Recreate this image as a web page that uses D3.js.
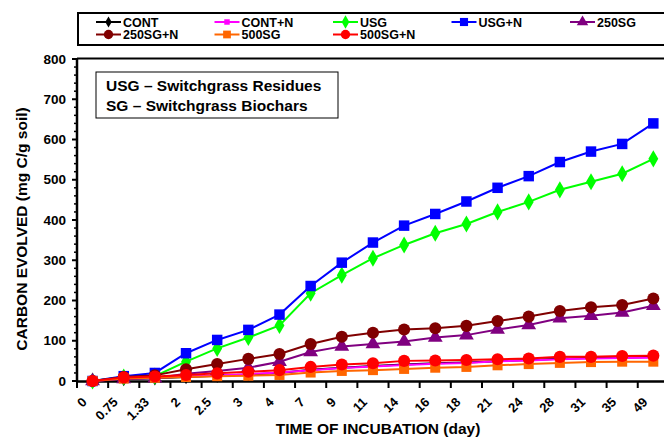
<!DOCTYPE html>
<html><head><meta charset="utf-8">
<script src="https://cdn.jsdelivr.net/npm/d3@7/dist/d3.min.js"></script>
<style>
body{margin:0;background:#fff;}
text{font-family:"Liberation Sans",Arial,sans-serif;font-weight:bold;fill:#000;}
</style></head>
<body><svg id="c" width="664" height="437"></svg>
<script>
const days = ["0","0.75","1.33","2","2.5","3","4","7","9","11","14","16","18","21","24","28","31","35","49"];
const seriesNames = ["CONT","CONT+N","USG","USG+N","250SG","250SG+N","500SG","500SG+N"];
const CONT     = [0,5,7,10,13,16,20,28,33,37,41,44,46,49,52,55,57,58,60];
const CONT_N   = [0,6,8,11,14,17,21,27,32,36,40,43,45,49,51,54,56,57,58];
const USG      = [0,10,12,48,81,108,138,218,263,305,338,367,390,420,445,475,495,515,552];
const USG_N    = [0,12,20,69,102,127,165,236,294,344,386,415,446,480,509,544,570,589,640];
const SG250    = [0,5,7,18,25,33,48,72,86,92,98,108,114,128,139,156,162,170,187];
const SG250_N  = [0,10,14,29,42,55,67,92,110,120,128,131,137,149,160,174,183,189,205];
const SG500    = [0,6,8,10,12,13,15,21,25,27,30,33,35,39,42,45,47,48,48];
const SG500_N  = [0,9,11,15,19,23,27,35,41,44,50,51,52,54,56,60,60,62,63];
const yTicks = [0,100,200,300,400,500,600,700,800];

const seriesData = [CONT, CONT_N, USG, USG_N, SG250, SG250_N, SG500, SG500_N];
const colors = ["#000000","#FF00FF","#00FF00","#0000FF","#800080","#800000","#FF6600","#FF0000"];
const shapes = ["diamond","square","diamond","square","triangle","circle","square","circle"];
const sizes  = [60,50,85,110,95,115,100,115];

const svg = d3.select("#c");
const x = d3.scaleBand().domain(days).range([77, 668.9]);
const y = d3.scaleLinear().domain([0,800]).range([381, 59]);

// Legend box
svg.append("rect").attr("x",78).attr("y",13).attr("width",640).attr("height",32)
  .attr("fill","#fff").attr("stroke","#000").attr("stroke-width",2);
const symMap = {diamond:d3.symbolDiamond, square:d3.symbolSquare, triangle:d3.symbolTriangle, circle:d3.symbolCircle};
seriesNames.forEach((n,i)=>{
  const col = i<5 ? i : i-5, row = i<5 ? 0 : 1;
  const lx = 96 + col*118.5, ly = 22 + row*12.5;
  const g = svg.append("g");
  g.append("line").attr("x1",lx).attr("x2",lx+25).attr("y1",ly).attr("y2",ly)
    .attr("stroke",colors[i]).attr("stroke-width",2);
  g.append("path").attr("d",d3.symbol().type(symMap[shapes[i]]).size(sizes[i]*0.6)())
    .attr("transform",`translate(${lx+12.5},${ly})`).attr("fill",colors[i]);
  g.append("text").attr("x",lx+27).attr("y",ly+4.5).attr("font-size",12.5).text(n);
});

// Plot top border
svg.append("line").attr("x1",77).attr("x2",664).attr("y1",58.5).attr("y2",58.5)
  .attr("stroke","#000").attr("stroke-width",2);

// Annotation box
svg.append("rect").attr("x",96).attr("y",72).attr("width",242).attr("height",46)
  .attr("fill","#fff").attr("stroke","#000").attr("stroke-width",1);
svg.append("text").attr("x",106).attr("y",91).attr("font-size",15.5).text("USG \u2013 Switchgrass Residues");
svg.append("text").attr("x",106).attr("y",110.5).attr("font-size",15.5).text("SG \u2013 Switchgrass Biochars");

// Y axis
const yAxisG = svg.append("g");
yAxisG.append("line").attr("x1",77).attr("x2",77).attr("y1",58).attr("y2",382)
  .attr("stroke","#000").attr("stroke-width",2.5);
d3.range(0,801,20).forEach(v=>{
  const major = v%100===0;
  yAxisG.append("line").attr("x1",major?72:74).attr("x2",77).attr("y1",y(v)).attr("y2",y(v))
    .attr("stroke","#000").attr("stroke-width",major?2:1.5);
});
yTicks.forEach(v=>{
  yAxisG.append("text").attr("x",66).attr("y",y(v)+4.5).attr("text-anchor","end")
    .attr("font-size",13.5).text(v);
});

// X axis
const xAxisG = svg.append("g");
xAxisG.append("line").attr("x1",76).attr("x2",664).attr("y1",381.5).attr("y2",381.5)
  .attr("stroke","#000").attr("stroke-width",2.5);
days.forEach((d,i)=>{
  const bx = x(d);
  xAxisG.append("line").attr("x1",bx).attr("x2",bx).attr("y1",381).attr("y2",388)
    .attr("stroke","#000").attr("stroke-width",2);
  const cx = bx + x.bandwidth()/2;
  xAxisG.append("text").attr("text-anchor","end").attr("font-size",13)
    .attr("transform",`translate(${cx-5},${403}) rotate(-45)`).text(d);
});

// Axis titles
svg.append("text").attr("x",378).attr("y",433.5).attr("text-anchor","middle").attr("font-size",15.5)
  .text("TIME OF INCUBATION (day)");
svg.append("text").attr("transform","translate(27,229) rotate(-90)").attr("text-anchor","middle")
  .attr("font-size",15.5).text("CARBON EVOLVED (mg C/g soil)");

// Series
const line = d3.line().x((v,i)=>x(days[i])+x.bandwidth()/2).y(v=>y(v));
seriesData.forEach((vals,si)=>{
  const g = svg.append("g");
  g.append("path").attr("d",line(vals)).attr("fill","none").attr("stroke",colors[si]).attr("stroke-width",2);
  g.selectAll("path.m").data(vals).enter().append("path").attr("class","m")
    .attr("d",d3.symbol().type(symMap[shapes[si]]).size(sizes[si])())
    .attr("transform",(v,i)=>`translate(${x(days[i])+x.bandwidth()/2},${y(v)})`)
    .attr("fill",colors[si]);
});
</script></body></html>
